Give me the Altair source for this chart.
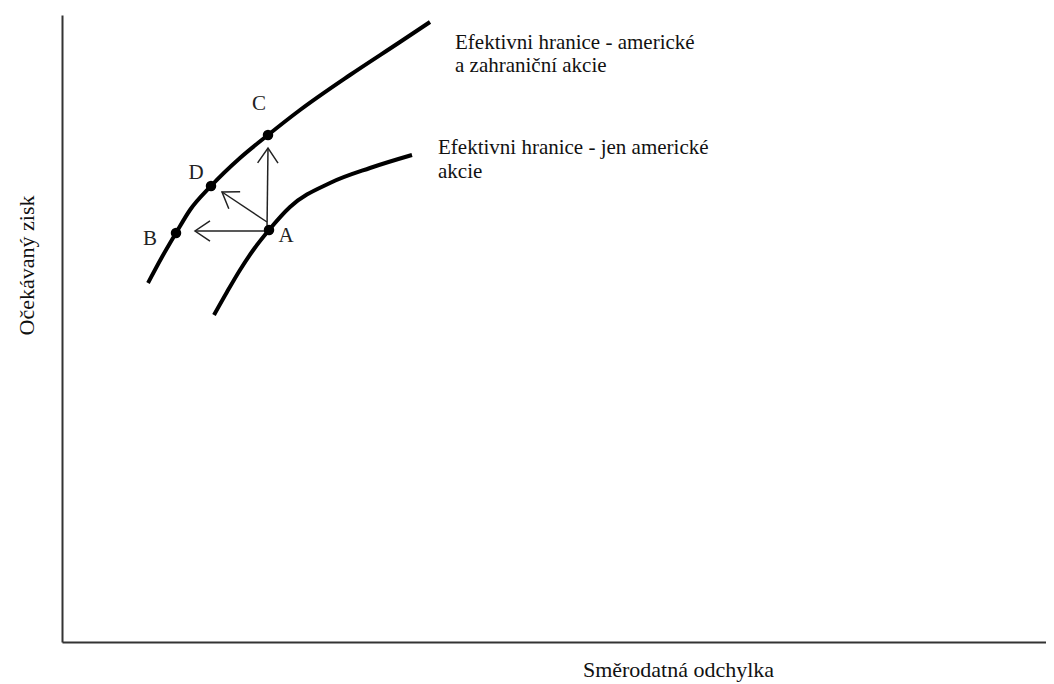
import altair as alt
import pandas as pd
import numpy as np

# Frontier curves (x = standard deviation, y = expected return)
upper_x = [86, 100, 114, 128, 149, 178, 206, 238, 288, 338, 368]
upper_y = [359, 385, 409, 432, 456, 484, 507, 532, 567, 600, 620]
lower_x = [152, 165, 178, 192, 207, 228, 268, 308, 350]
lower_y = [327, 350, 372, 393, 412, 435, 459, 474, 487]

# Labelled portfolios
pt_names = ["A", "B", "C", "D"]
pt_x = [207, 114, 206, 149]
pt_y = [412, 409, 507, 456]
lab_x = [224, 88, 197, 134]
lab_y = [406, 403, 538, 469]

# Arrows from A
arr_x0 = [207, 205, 205]
arr_y0 = [411, 413, 420]
arr_x1 = [133, 206, 160]
arr_y1 = [411, 494, 450]

# Frontier captions (one row per line)
cap_lines = ["Efektivni hranice - americké", "a zahraniční akcie",
             "Efektivni hranice - jen americké", "akcie"]
cap_x = [393, 393, 376, 376]
cap_y = [599, 576, 494, 470]

W, H = 984, 627
FONT = "Liberation Serif"

curves = pd.concat([
    pd.DataFrame({"x": upper_x, "y": upper_y, "s": "upper", "o": range(len(upper_x))}),
    pd.DataFrame({"x": lower_x, "y": lower_y, "s": "lower", "o": range(len(lower_x))}),
])
pts = pd.DataFrame({"name": pt_names, "x": pt_x, "y": pt_y, "lx": lab_x, "ly": lab_y})
dx = np.array(arr_x1) - np.array(arr_x0)
dy = np.array(arr_y1) - np.array(arr_y0)
ang = (np.degrees(np.arctan2(-dy, dx)) + 360) % 360
arrows = pd.DataFrame({"x": arr_x0, "y": arr_y0, "x2": arr_x1, "y2": arr_y1, "ang": ang})
caps = pd.DataFrame({"t": cap_lines, "x": cap_x, "y": cap_y})

xs = alt.Scale(domain=[0, W], nice=False, zero=False)
ys = alt.Scale(domain=[0, H], nice=False, zero=False)

xax = alt.Axis(title="Směrodatná odchylka", ticks=False, labels=False, grid=False,
               domainColor="#333", domainWidth=2, titleFont=FONT, titleFontSize=22,
               titleFontWeight="normal", titleColor="#111", titleX=616, titleY=27,
               titleBaseline="middle")
yax = alt.Axis(title="Očekávaný zisk", ticks=False, labels=False, grid=False,
               domainColor="#333", domainWidth=2, titleFont=FONT, titleFontSize=22,
               titleFontWeight="normal", titleColor="#111", titleX=-36, titleY=250,
               titleBaseline="middle", titleAngle=270)

base_axes = alt.Chart(curves).mark_line(color="black", strokeWidth=4,
                                        interpolate="monotone").encode(
    x=alt.X("x:Q", scale=xs, axis=xax),
    y=alt.Y("y:Q", scale=ys, axis=yax),
    detail="s:N", order="o:Q",
)

shafts = alt.Chart(arrows).mark_rule(color="#222", strokeWidth=1.5).encode(
    x=alt.X("x:Q", scale=xs), y=alt.Y("y:Q", scale=ys), x2="x2:Q", y2="y2:Q")

heads = alt.Chart(arrows).mark_point(
    shape="M -1 -0.68 L 0 0 L -1 0.68", filled=False, color="#222",
    strokeWidth=1.5, size=900, opacity=1).encode(
    x=alt.X("x2:Q", scale=xs), y=alt.Y("y2:Q", scale=ys), angle=alt.Angle("ang:Q", scale=None))

dots = alt.Chart(pts).mark_circle(color="black", size=110, opacity=1).encode(
    x=alt.X("x:Q", scale=xs), y=alt.Y("y:Q", scale=ys))

letters = alt.Chart(pts).mark_text(font=FONT, fontSize=21, color="#222",
                                   baseline="middle", align="center").encode(
    x=alt.X("lx:Q", scale=xs), y=alt.Y("ly:Q", scale=ys), text="name:N")

captions = alt.Chart(caps).mark_text(font=FONT, fontSize=21, color="#111",
                                     baseline="middle", align="left").encode(
    x=alt.X("x:Q", scale=xs), y=alt.Y("y:Q", scale=ys), text="t:N")

chart = alt.layer(base_axes, shafts, heads, dots, letters, captions).properties(
    width=W, height=H,
    autosize=alt.AutoSizeParams(type="none"),
    padding={"left": 54, "top": 7, "right": 0, "bottom": 42},
).configure_view(stroke=None)

chart.save("out.html", embed_options={"renderer": "svg", "actions": False})
